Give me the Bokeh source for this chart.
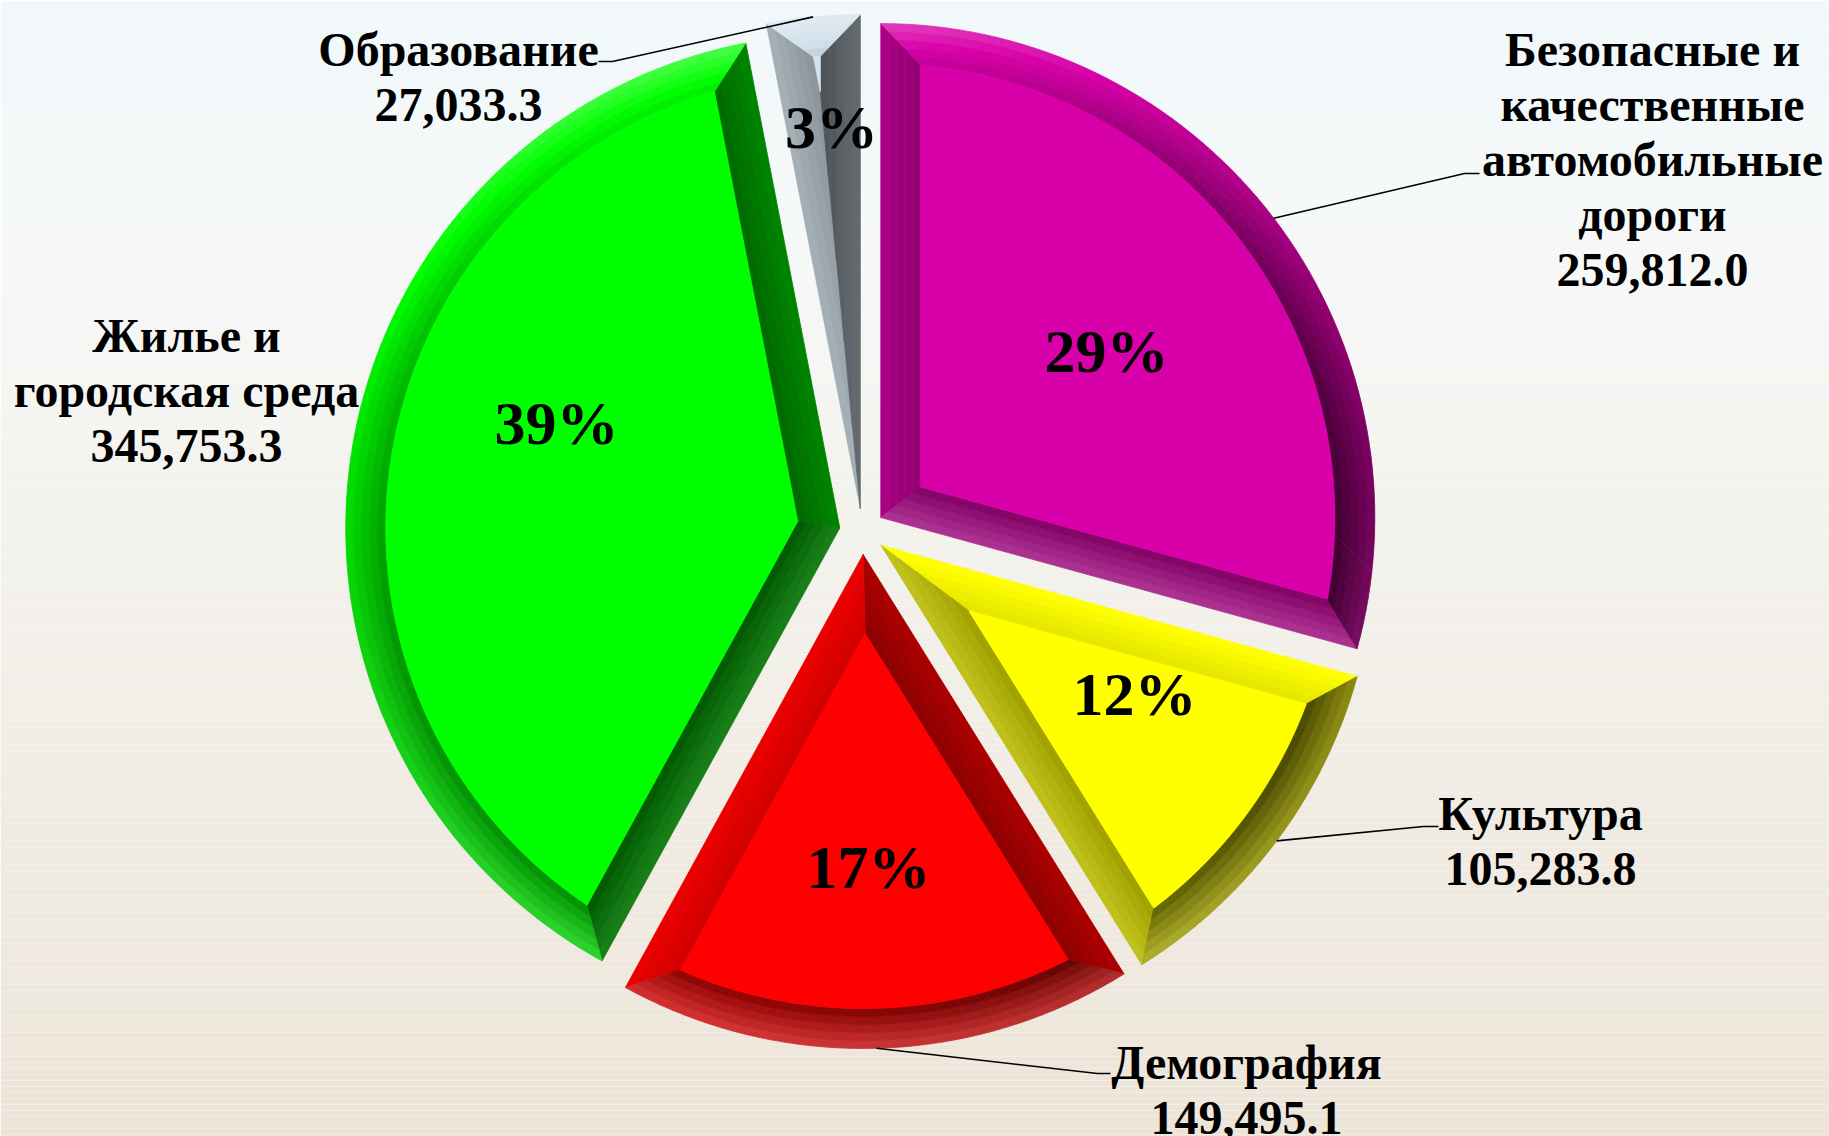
import numpy as np
from bokeh.plotting import figure
from bokeh.models import Range1d
from bokeh.embed import file_html
from bokeh.resources import INLINE
from bokeh.core.properties import value

# ---------------- data ----------------
categories = ["Безопасные и качественные автомобильные дороги", "Культура",
              "Демография", "Жилье и городская среда", "Образование"]
label_lines = [["Безопасные и", "качественные", "автомобильные", "дороги"],
               ["Культура"],
               ["Демография"],
               ["Жилье и", "городская среда"],
               ["Образование"]]
values = [259812.0, 105283.8, 149495.1, 345753.3, 27033.3]
colors = ["#d800a8", "#ffff00", "#ff0000", "#00ff00", "#d4e2ec"]

# ---------------- layout (screen px of the page) ----------------
W, H = 1829, 1136
def X(sx): return sx
def Y(sy): return H - sy

CX, CY = X(862), Y(531)
EXPLODE = 23
R = 494
BEV = 40
NSUB = 5
label_pos = [(1652, 49), (1540, 813), (1246, 1062), (186, 335), (458, 49)]
pct_pos = [(1106, 350), (1134, 693), (868, 866), (556, 422), (831, 126)]
leader_elbow = [(1464, 173), (1423, 826), (1097, 1073), None, (612, 61)]
leader_end_x = [1479, 1438, 1110, None, 598]
LINE_STEP = 55

FONT = value("Liberation Serif")

def parse(h):
    h = h.lstrip("#")
    return np.array([int(h[i:i + 2], 16) for i in (0, 2, 4)], dtype=float)

def to_hex(c):
    c = np.clip(np.round(c), 0, 255).astype(int)
    return "#%02x%02x%02x" % tuple(c)

def shade(hexc, f, whiten=0.0):
    c = parse(hexc)
    if f <= 1:
        c = c * f
    else:
        t = min(1.0, (f - 1) * 1.6)
        c = c + (255 - c) * t
    c = c + (255 - c) * whiten
    return to_hex(c)

def light(nx, ny):
    return 0.68 + 0.2 * ny - 0.16 * nx + 0.14 * ny * ny - 0.1 * nx * nx

p = figure(width=W, height=H, x_range=Range1d(0, W), y_range=Range1d(0, H),
           toolbar_location=None, output_backend="svg",
           x_axis_location=None, y_axis_location=None, min_border=0)
p.outline_line_color = None
p.xgrid.visible = False
p.ygrid.visible = False
p.border_fill_color = "#f3f3ef"

# ---------------- background gradient ----------------
stops_y = [0, 250, 520, 1136]
stops_c = [parse("#f0f8fa"), parse("#f6f8f8"), parse("#f3f2ec"), parse("#ede4d8")]
bt, bb, bc = [], [], []
for sy in range(0, H, 6):
    yy = sy + 3
    c = np.array([np.interp(yy, stops_y, [s[k] for s in stops_c]) for k in range(3)])
    bt.append(Y(sy)); bb.append(Y(sy + 6)); bc.append(to_hex(c))
p.quad(left=0, right=W, top=bt, bottom=bb, fill_color=bc, line_color=None)

# ---------------- pie geometry ----------------
vals = np.array(values)
total = vals.sum()
cum = np.concatenate([[0], np.cumsum(vals)])
th0 = np.pi / 2 - 2 * np.pi * cum[:-1] / total
th1 = np.pi / 2 - 2 * np.pi * cum[1:] / total

def u(t):
    return np.array([np.cos(t), np.sin(t)])

sfrac = np.linspace(0, 1, NSUB + 1)
xs, ys, fc = [], [], []
apexes, mids = [], []
for i in range(len(vals)):
    a0, a1 = th0[i], th1[i]
    mid = (a0 + a1) / 2
    h = (a0 - a1) / 2
    A = np.array([CX, CY]) + EXPLODE * u(mid)
    apexes.append(A); mids.append(mid)
    delta = np.arcsin(BEV / (R - BEV))
    s = np.sqrt((R - BEV) ** 2 - BEV ** 2)
    n0 = np.array([np.sin(a0), -np.cos(a0)])
    n1 = np.array([-np.sin(a1), np.cos(a1)])
    Q0 = A + s * u(a0) + BEV * n0
    Q1 = A + s * u(a1) + BEV * n1
    I = A + (BEV / np.sin(h)) * u(mid)
    P0 = A + R * u(a0)
    P1 = A + R * u(a1)
    base = colors[i]
    # radial edge bevels with a soft gradient across their width
    for (P, Q, n) in ((P0, Q0, -n0), (P1, Q1, -n1)):
        f = light(n[0], n[1])
        wlow = 0.22 * max(0.0, -n[1])
        for k in range(NSUB):
            sa, sb = sfrac[k], sfrac[k + 1]
            a_a, a_b = A + sa * (I - A), A + sb * (I - A)
            p_a, p_b = P + sa * (Q - P), P + sb * (Q - P)
            poly = [a_a, p_a, p_b, a_b]
            xs.append([q[0] for q in poly]); ys.append([q[1] for q in poly])
            sm = (sa + sb) / 2
            fc.append(shade(base, f + 0.06 - 0.12 * sm, whiten=wlow * (1 - sm)))
    # arc bevel, segmented, with gradient across its width
    span = np.degrees(a0 - a1)
    nseg = max(6, int(span / 1.5))
    tt = np.linspace(0, 1, nseg + 1)
    def outer(t): return A + R * u(a0 + (a1 - a0) * t)
    def inner(t): return A + (R - BEV) * u(a0 - delta + (a1 - a0 + 2 * delta) * t)
    for k in range(nseg):
        o0, o1 = outer(tt[k]), outer(tt[k + 1])
        i0, i1 = inner(tt[k]), inner(tt[k + 1])
        tm = a0 + (a1 - a0) * (tt[k] + tt[k + 1]) / 2
        f = light(np.cos(tm), np.sin(tm))
        low = max(0.0, -np.sin(tm))
        for j in range(NSUB):
            sa, sb = sfrac[j], sfrac[j + 1]
            q0a, q1a = o0 + sa * (i0 - o0), o1 + sa * (i1 - o1)
            q0b, q1b = o0 + sb * (i0 - o0), o1 + sb * (i1 - o1)
            xs.append([q0a[0], q1a[0], q1b[0], q0b[0]])
            ys.append([q0a[1], q1a[1], q1b[1], q0b[1]])
            sm = (sa + sb) / 2
            fc.append(shade(base, f + 0.14 - 0.26 * sm, whiten=0.22 * low * (1 - sm)))
    # face
    if h > delta:
        arc_t = np.linspace(a0 - delta, a1 + delta, max(8, int(span)))
        fx = [I[0]] + list(A[0] + (R - BEV) * np.cos(arc_t))
        fy = [I[1]] + list(A[1] + (R - BEV) * np.sin(arc_t))
        xs.append(fx); ys.append(fy); fc.append(base)

p.patches(xs=xs, ys=ys, fill_color=fc, line_color=fc, line_width=0.8)

# ---------------- leader lines ----------------
for i in range(len(vals)):
    if leader_elbow[i] is None:
        continue
    start = apexes[i] + R * u(mids[i])
    ex, ey = leader_elbow[i]
    p.line([start[0], X(ex), X(leader_end_x[i])], [start[1], Y(ey), Y(ey)],
           line_color="black", line_width=1.6)

# ---------------- labels ----------------
tx, ty, tt_ = [], [], []
for i in range(len(vals)):
    lines = label_lines[i] + [f"{values[i]:,.1f}"]
    sx, sy = label_pos[i]
    for j, ln in enumerate(lines):
        tx.append(X(sx)); ty.append(Y(sy + j * LINE_STEP)); tt_.append(ln)
p.text(x=tx, y=ty, text=tt_, text_font=FONT, text_font_style="bold",
       text_font_size="48px", text_align="center", text_baseline="middle",
       text_color="black")

px = [X(q[0]) for q in pct_pos]
py = [Y(q[1]) for q in pct_pos]
pt = [f"{round(v / total * 100)}%" for v in values]
p.text(x=px, y=py, text=pt, text_font=FONT, text_font_style="bold",
       text_font_size="62px", text_align="center", text_baseline="middle",
       text_color="black")

open("out.html", "w").write(file_html(p, INLINE))
